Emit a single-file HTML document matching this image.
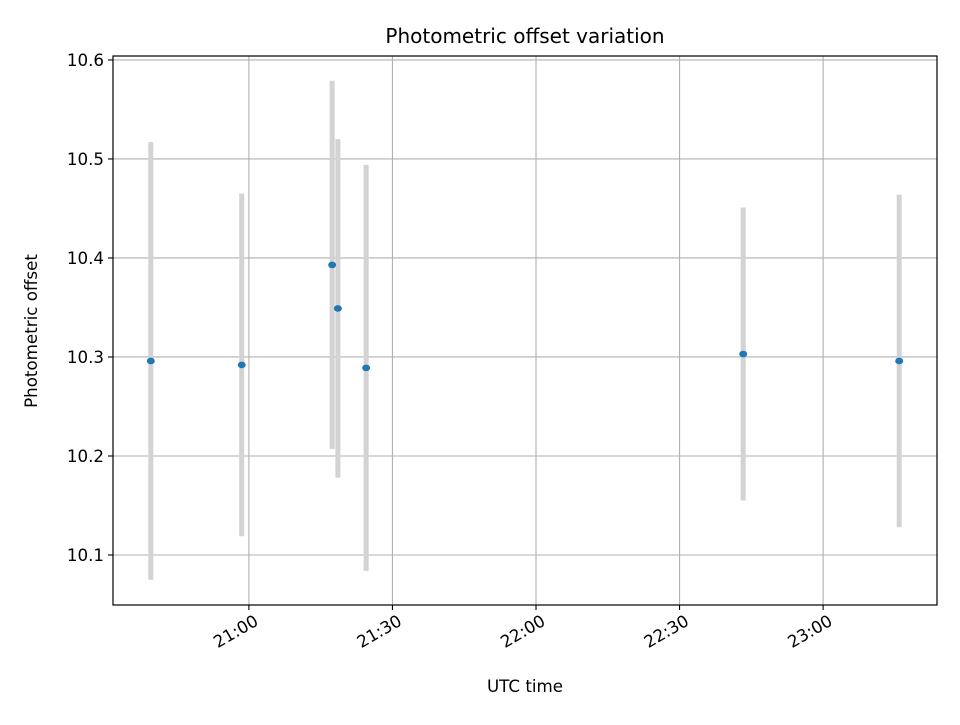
<!DOCTYPE html>
<html><head><meta charset="utf-8"><style>
body{margin:0;background:#fff;}
svg text{font-family:"DejaVu Sans","Liberation Sans",sans-serif;fill:#000;}
</style></head><body>
<svg id="chart" width="960" height="720" xmlns="http://www.w3.org/2000/svg">
<rect width="960" height="720" fill="#fff"/>
<g id="grid"></g>
<g id="bars"></g>
<g id="pts"></g>
<rect x="113" y="56" width="824" height="549" fill="none" stroke="#000" stroke-width="1.2"/>
<g id="ticks"></g>
<text x="525" y="43" font-size="20" text-anchor="middle">Photometric offset variation</text>
<text x="525" y="692" font-size="16.7" text-anchor="middle">UTC time</text>
<text x="37" y="331" font-size="16.7" text-anchor="middle" transform="rotate(-90 37 331)">Photometric offset</text>
</svg>
<script>
// minutes relative to 21:00 UTC
const times=[-20.5,-1.5,17.4,18.6,24.5,103.3,135.9];
const values=[10.296,10.292,10.393,10.349,10.289,10.303,10.296];
const errors=[0.221,0.173,0.186,0.171,0.205,0.148,0.168];
const yTicks=[10.1,10.2,10.3,10.4,10.5,10.6];
const xTickMins=[0,30,60,90,120];
const xTickLabels=["21:00","21:30","22:00","22:30","23:00"];
const X0=113,X1=937,Y0=56,Y1=605,xmin=-28.4,xmax=143.8,ymin=10.0495,ymax=10.604;
const sx=m=>X0+(m-xmin)/(xmax-xmin)*(X1-X0);
const sy=v=>Y1-(v-ymin)/(ymax-ymin)*(Y1-Y0);
const NS="http://www.w3.org/2000/svg";
function mk(t,a,p){const e=document.createElementNS(NS,t);for(const k in a)e.setAttribute(k,a[k]);p.appendChild(e);return e;}
const grid=document.getElementById('grid'),ticks=document.getElementById('ticks'),bars=document.getElementById('bars'),pts=document.getElementById('pts');
yTicks.forEach(v=>{const y=sy(v);
const g=mk('line',{x1:X0,x2:X1,y1:y,y2:y,stroke:'#b0b0b0','stroke-width':1.1},grid);


const t=mk('line',{x1:X0-5,x2:X0,y1:y,y2:y,stroke:'#000','stroke-width':1.1},ticks);


const l=mk('text',{x:X0-9,y:y+6,'font-size':16.7,'text-anchor':'end'},ticks);l.textContent=v.toFixed(1);

});
xTickMins.forEach((m,i)=>{const x=sx(m);
const g=mk('line',{x1:x,x2:x,y1:Y0,y2:Y1,stroke:'#b0b0b0','stroke-width':1.1},grid);


const t=mk('line',{x1:x,x2:x,y1:Y1,y2:Y1+5,stroke:'#000','stroke-width':1.1},ticks);


const ax=x+4,ay=Y1+8;
const l=mk('text',{x:ax,y:ay,dy:'0.78em','font-size':16.7,'text-anchor':'end',transform:`rotate(-30 ${ax} ${ay})`},ticks);l.textContent=xTickLabels[i];

});
times.forEach((m,i)=>{const x=sx(m);
const b=mk('line',{x1:x,x2:x,y1:sy(values[i]+errors[i]),y2:sy(values[i]-errors[i]),stroke:'#d3d3d3','stroke-width':5},bars);


const p=mk('ellipse',{cx:x,cy:sy(values[i]),rx:4,ry:3.3,fill:'#1f77b4'},pts);

});
</script>
</body></html>
